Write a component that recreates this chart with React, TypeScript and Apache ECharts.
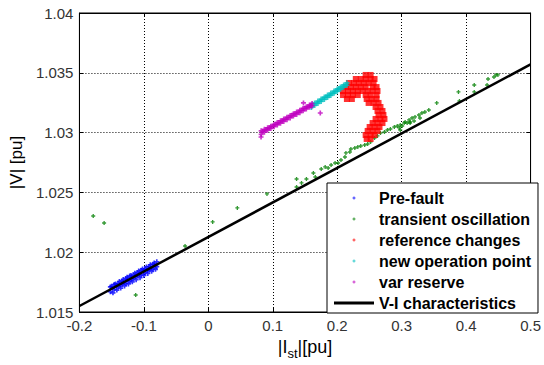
import React, { useEffect, useRef } from 'react';
import * as echarts from 'echarts';

const xTickLabels = ['-0.2', '-0.1', '0', '0.1', '0.2', '0.3', '0.4', '0.5'];
const yTickLabels = ['1.015', '1.02', '1.025', '1.03', '1.035', '1.04'];

const seriesNames = ['Pre-fault', 'transient oscillation', 'reference changes', 'new operation point', 'var reserve', 'V-I characteristics'];
const seriesColors = ['#0000ff', '#008000', '#ff0000', '#00bfbf', '#bf00bf', '#000000'];

const viLine: number[][] = [[-0.2, 1.0155], [0.5, 1.0357]];

const preFault: number[][] = [
  [-0.152, 1.0171], [-0.152, 1.0167], [-0.149, 1.0170], [-0.146, 1.0173], [-0.146, 1.0169],
  [-0.143, 1.0172], [-0.140, 1.0174], [-0.140, 1.0171], [-0.137, 1.0173], [-0.134, 1.0176],
  [-0.134, 1.0173], [-0.131, 1.0175], [-0.128, 1.0178], [-0.128, 1.0174], [-0.125, 1.0177],
  [-0.122, 1.0180], [-0.122, 1.0176], [-0.119, 1.0178], [-0.116, 1.0181], [-0.116, 1.0178],
  [-0.113, 1.0180], [-0.110, 1.0183], [-0.110, 1.0180], [-0.107, 1.0182], [-0.104, 1.0185],
  [-0.104, 1.0181], [-0.101, 1.0184], [-0.098, 1.0186], [-0.098, 1.0183], [-0.095, 1.0185],
  [-0.092, 1.0188], [-0.092, 1.0185], [-0.089, 1.0187], [-0.086, 1.0190], [-0.086, 1.0186],
  [-0.083, 1.0189], [-0.080, 1.0192], [-0.080, 1.0188],
  [-0.150, 1.01715], [-0.144, 1.01735], [-0.138, 1.01755], [-0.132, 1.01772], [-0.126, 1.0179],
  [-0.120, 1.01805], [-0.114, 1.01825], [-0.108, 1.01842], [-0.102, 1.0186], [-0.096, 1.01877],
  [-0.090, 1.01895], [-0.084, 1.0191],
  [-0.148, 1.0166], [-0.142, 1.01683], [-0.136, 1.017], [-0.130, 1.01718], [-0.124, 1.01735],
  [-0.118, 1.01752], [-0.112, 1.0177], [-0.106, 1.01787], [-0.100, 1.01805], [-0.094, 1.01822],
  [-0.088, 1.0184], [-0.082, 1.01857]
];

const transient: number[][] = [
  [-0.1786, 1.02303], [-0.1617, 1.02244], [-0.1127, 1.01642], [-0.0361, 1.02052], [0.0067, 1.02253],
  [0.0450, 1.02370], [0.0910, 1.02487], [0.1369, 1.02612], [0.1446, 1.02579], [0.1369, 1.02545],
  [0.1522, 1.02612], [0.1630, 1.02662], [0.1660, 1.02629], [0.1752, 1.02696], [0.1813, 1.02713],
  [0.1859, 1.02704], [0.1905, 1.02729], [0.1967, 1.02746], [0.2013, 1.02746], [0.2058, 1.02771],
  [0.2120, 1.02796], [0.2135, 1.02830], [0.2196, 1.02838], [0.2212, 1.02863], [0.2273, 1.02871],
  [0.2319, 1.02880], [0.2365, 1.02888], [0.2426, 1.02896], [0.2472, 1.02905], [0.2518, 1.02922],
  [0.2579, 1.02955], [0.2625, 1.02972], [0.2671, 1.02997], [0.2733, 1.03005], [0.2779, 1.03022],
  [0.2825, 1.03030], [0.2886, 1.03047], [0.2932, 1.03055], [0.2978, 1.03064], [0.3039, 1.03080],
  [0.3085, 1.03080], [0.3131, 1.03089], [0.3192, 1.03097], [0.2962, 1.03039], [0.3008, 1.03055],
  [0.3054, 1.03089], [0.3115, 1.03106], [0.3161, 1.03122], [0.3207, 1.03131], [0.3268, 1.03147],
  [0.3314, 1.03164], [0.3360, 1.03172], [0.3421, 1.03189], [0.2978, 1.03022], [0.3131, 1.03080],
  [0.3284, 1.03122], [0.3544, 1.03248], [0.3881, 1.03340], [0.3896, 1.03264], [0.4126, 1.03398],
  [0.4126, 1.03340], [0.4340, 1.03448], [0.4325, 1.03398], [0.4432, 1.03465], [0.4463, 1.03482],
  [0.4493, 1.03482]
];

const referenceChanges: number[][] = [
  [0.2441, 1.03482], [0.2518, 1.03482],
  [0.2288, 1.03448], [0.2365, 1.03448], [0.2441, 1.03448], [0.2518, 1.03448], [0.2579, 1.03448],
  [0.2181, 1.03415], [0.2258, 1.03415], [0.2334, 1.03415], [0.2411, 1.03415], [0.2487, 1.03415], [0.2564, 1.03415],
  [0.2135, 1.03381], [0.2212, 1.03381], [0.2288, 1.03381], [0.2365, 1.03381], [0.2441, 1.03381], [0.2549, 1.03381], [0.2610, 1.03381],
  [0.2089, 1.03348], [0.2166, 1.03348], [0.2242, 1.03348], [0.2319, 1.03348], [0.2395, 1.03348], [0.2472, 1.03348], [0.2549, 1.03348], [0.2625, 1.03348],
  [0.2089, 1.03314], [0.2166, 1.03314], [0.2242, 1.03314], [0.2319, 1.03314], [0.2441, 1.03314], [0.2518, 1.03314], [0.2610, 1.03314],
  [0.2150, 1.03281], [0.2227, 1.03281], [0.2457, 1.03281], [0.2533, 1.03281], [0.2610, 1.03281],
  [0.2487, 1.03248], [0.2564, 1.03248], [0.2641, 1.03248],
  [0.2595, 1.03214], [0.2671, 1.03214],
  [0.2625, 1.03181], [0.2702, 1.03181],
  [0.2641, 1.03147], [0.2717, 1.03147],
  [0.2595, 1.03114], [0.2671, 1.03114], [0.2733, 1.03114],
  [0.2549, 1.03080], [0.2625, 1.03080], [0.2702, 1.03080],
  [0.2503, 1.03047], [0.2579, 1.03047], [0.2656, 1.03047],
  [0.2472, 1.03014], [0.2549, 1.03014], [0.2625, 1.03014],
  [0.2441, 1.02980], [0.2518, 1.02980], [0.2579, 1.02980],
  [0.2457, 1.02947], [0.2518, 1.02947]
];

const newOperationPoint: number[][] = [
  [0.160, 1.0323], [0.160, 1.0321], [0.165, 1.03247], [0.165, 1.03227], [0.170, 1.03264], [0.170, 1.03244],
  [0.175, 1.0328], [0.175, 1.0326], [0.180, 1.03297], [0.180, 1.03277], [0.185, 1.03314], [0.185, 1.03294],
  [0.190, 1.03331], [0.190, 1.03311], [0.195, 1.03348], [0.195, 1.03328], [0.200, 1.03365], [0.200, 1.03345],
  [0.205, 1.03382], [0.205, 1.03362], [0.210, 1.03399], [0.210, 1.03379], [0.215, 1.03416], [0.215, 1.03396],
  [0.1625, 1.0323], [0.1675, 1.03246], [0.1725, 1.03262], [0.1775, 1.03279], [0.1825, 1.03296], [0.1875, 1.03312],
  [0.1925, 1.03329], [0.1975, 1.03346], [0.2025, 1.03363], [0.2075, 1.0338], [0.2125, 1.03397]
];

const varReserve: number[][] = [
  [0.082, 1.03015], [0.082, 1.02985], [0.0818, 1.02963], [0.087, 1.03027], [0.087, 1.03003],
  [0.092, 1.0304], [0.092, 1.0302], [0.097, 1.03054], [0.097, 1.03034], [0.102, 1.03069], [0.102, 1.03049],
  [0.107, 1.03084], [0.107, 1.03064], [0.112, 1.03099], [0.112, 1.03079], [0.117, 1.03113], [0.117, 1.03093],
  [0.122, 1.03128], [0.122, 1.03108], [0.127, 1.03143], [0.127, 1.03123], [0.132, 1.03158], [0.132, 1.03138],
  [0.137, 1.03172], [0.137, 1.03152], [0.142, 1.03187], [0.142, 1.03167], [0.147, 1.03202], [0.147, 1.03182],
  [0.152, 1.03217], [0.152, 1.03197], [0.157, 1.03231], [0.157, 1.03211], [0.161, 1.03243], [0.161, 1.03223],
  [0.0845, 1.0301], [0.0895, 1.03025], [0.0945, 1.0304], [0.0995, 1.03054], [0.1045, 1.03069], [0.1095, 1.03084],
  [0.1145, 1.03099], [0.1195, 1.03113], [0.1245, 1.03128], [0.1295, 1.03143], [0.1345, 1.03158], [0.1395, 1.03172],
  [0.1445, 1.03187], [0.1495, 1.03202], [0.1545, 1.03217], [0.1590, 1.03229],
  [0.1476, 1.03248], [0.1737, 1.03164]
];

const FONT = 'Arial, "Liberation Sans", sans-serif';
const PLUS = 'path://M1,0H2V1H3V2H2V3H1V2H0V1H1Z';
const LINE_ICON = 'path://M0,0H40V3H0Z';

const xMin = Number(xTickLabels[0]);
const xMax = Number(xTickLabels[xTickLabels.length - 1]);
const xStep = Number(xTickLabels[1]) - xMin;
const yMin = Number(yTickLabels[0]);
const yMax = Number(yTickLabels[yTickLabels.length - 1]);
const yStep = Number(yTickLabels[2]) - Number(yTickLabels[1]);

const xFmt = (v: number) => xTickLabels[Math.round((v - xMin) / xStep)] ?? '';
const yFmt = (v: number) => yTickLabels[Math.round((v - yMin) / yStep)] ?? '';

const gridLine = { show: true, lineStyle: { color: '#000', type: [1, 2], width: 1 } };
const axLine = { show: true, onZero: false, lineStyle: { color: '#000', width: 1 } };
const axTick = { show: true, inside: true, length: 4, lineStyle: { color: '#000' } };

function scatter(i: number, data: number[][], size: number, symbol: string) {
  return {
    name: seriesNames[i],
    type: 'scatter',
    data,
    symbol,
    symbolSize: size,
    itemStyle: { color: seriesColors[i] },
    silent: true,
  };
}

export default function App() {
  const ref = useRef<HTMLDivElement>(null);
  useEffect(() => {
    document.body.style.margin = '0';
    const chart = echarts.init(ref.current!, null, { renderer: 'svg' });
    chart.setOption({
      animation: false,
      backgroundColor: '#fff',
      grid: { left: 78, right: 9, top: 13, bottom: 53, show: true, borderColor: '#000', borderWidth: 1, backgroundColor: '#fff' },
      xAxis: [
        {
          type: 'value', min: xMin, max: xMax, interval: xStep, position: 'bottom',
          axisLine: axLine, axisTick: axTick, splitLine: gridLine,
          axisLabel: { color: '#333', fontSize: 15, fontFamily: FONT, margin: 6, formatter: xFmt },
          name: '{n||I}{s|st}{n||[pu]}', nameLocation: 'middle', nameGap: 24,
          nameTextStyle: {
            color: '#000', fontFamily: FONT, fontSize: 18,
            rich: {
              n: { fontSize: 18, fontFamily: FONT, color: '#000', verticalAlign: 'top', lineHeight: 19 },
              s: { fontSize: 13, fontFamily: FONT, color: '#000', verticalAlign: 'top', padding: [9, 0, 0, 0], lineHeight: 13 },
            },
          },
        },
        {
          type: 'value', min: xMin, max: xMax, interval: xStep, position: 'top',
          axisLine: axLine, axisTick: axTick, splitLine: { show: false }, axisLabel: { show: false },
        },
      ],
      yAxis: [
        {
          type: 'value', min: yMin, max: yMax, interval: yStep, position: 'left',
          axisLine: axLine, axisTick: axTick, splitLine: gridLine,
          axisLabel: { color: '#333', fontSize: 15, fontFamily: FONT, margin: 6, formatter: yFmt },
          name: '|V| [pu]', nameLocation: 'middle', nameGap: 50,
          nameTextStyle: { color: '#000', fontFamily: FONT, fontSize: 17 },
        },
        {
          type: 'value', min: yMin, max: yMax, interval: yStep, position: 'right',
          axisLine: axLine, axisTick: axTick, splitLine: { show: false }, axisLabel: { show: false },
        },
      ],
      legend: {
        orient: 'vertical', left: 327, top: 183,
        padding: [6, 7, 1, 7], itemWidth: 40, itemHeight: 3, itemGap: 3,
        backgroundColor: '#fff', borderColor: '#000', borderWidth: 1, borderRadius: 0,
        textStyle: { fontSize: 16, fontWeight: 'bold', fontFamily: FONT, color: '#000', lineHeight: 18 },
        selectedMode: false,
        data: [
          { name: seriesNames[0], icon: PLUS },
          { name: seriesNames[1], icon: PLUS },
          { name: seriesNames[2], icon: PLUS },
          { name: seriesNames[3], icon: PLUS },
          { name: seriesNames[4], icon: PLUS },
          { name: seriesNames[5], icon: LINE_ICON, itemStyle: { color: '#000' } },
        ],
      },
      series: [
        scatter(0, preFault, 5, PLUS),
        scatter(1, transient, 4, PLUS),
        scatter(2, referenceChanges, 6, 'rect'),
        scatter(3, newOperationPoint, 5, PLUS),
        scatter(4, varReserve, 5, PLUS),
        {
          name: seriesNames[5], type: 'line', data: viLine, symbol: 'none', silent: true,
          lineStyle: { color: '#000', width: 2.5 }, itemStyle: { color: '#000' },
        },
      ],
    });
    return () => chart.dispose();
  }, []);
  return <div ref={ref} style={{ width: 544, height: 365 }} />;
}
